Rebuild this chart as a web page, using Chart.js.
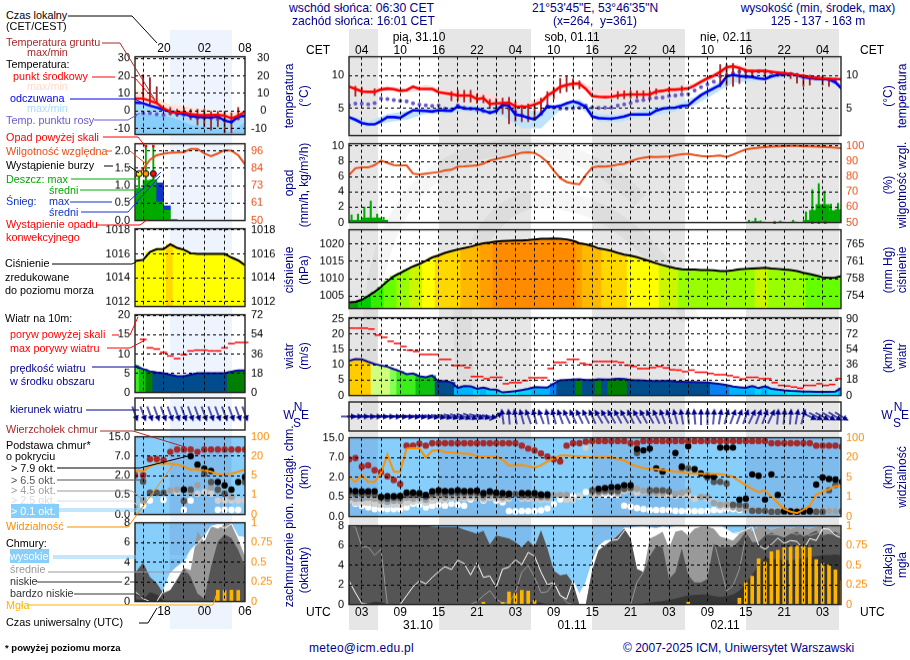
<!DOCTYPE html>
<html lang="pl">
<head>
<meta charset="utf-8">
<title>Meteogram</title>
<script src="https://cdn.jsdelivr.net/npm/chart.js@4"></script>
<style>
  html, body { margin: 0; background: #fff; }
  #page { position: relative; width: 910px; height: 660px; overflow: hidden; font: 10.8px "Liberation Sans", Arial, sans-serif; color: #000; }
  #page canvas { position: absolute; }
  .t { position: absolute; white-space: nowrap; line-height: 14px; }
  .band { position: absolute; }
  svg { position: absolute; left: 0; top: 0; }
</style>
</head>
<body>
<div id="page"></div>
<script>
const _ = null;

// main panels: hour 1 = 01 UTC 31.10, one value per hour (78 values)
const tempMid = [8.35,8.0,7.6,7.55,7.55,7.9,8.05,7.95,7.7,7.8,8.35,8.0,8.0,8.0,7.5,7.35,7.2,7.0,7.0,7.0,6.45,6.6,5.7,5.8,5.85,5.9,5.35,5.3,5.35,5.6,6.0,7.0,7.6,8.3,8.6,8.8,8.8,8.0,6.9,6.8,6.75,6.8,7.0,7.1,7.15,7.15,7.15,7.15,7.6,7.7,7.9,7.9,8.0,8.05,8.5,9.1,9.6,10.0,10.6,11.3,11.45,11.2,10.8,10.7,10.75,10.75,10.6,10.5,10.4,10.3,10.1,10,9.8,9.7,9.6,9.55,9.5,9.5];
const tempFeels = [3.7,3.3,2.8,2.6,2.6,3.1,3.7,3.7,3.6,4.2,4.75,4.7,4.65,4.55,4.75,4.7,4.65,5.35,5.0,5.0,5.0,4.7,4.35,4.65,5.6,5.4,4.1,3.9,3.6,3.35,4.2,5.35,5.25,5.4,5.8,6.1,5.8,5.25,3.8,3.55,3.5,3.45,3.6,3.8,4.1,4.1,4.1,4.1,4.7,5.0,5.1,5.15,5.4,5.5,6.3,7.05,7.6,8.1,8.6,9.9,10.15,9.95,9.9,9.8,9.6,9.5,9.9,10.15,10.2,10.3,10.1,9.8,9.65,9.55,9.5,9.45,9.0,8.0];
const tempDew = [5.5,5.75,5.75,5.65,5.85,6.55,6.45,6.3,6.2,6.1,5.8,5.6,5.5,5.4,5.5,5,4.85,5.5,5.15,5,4.85,4.6,4.4,4.65,5.4,5,4.5,4,3.6,3.55,4.2,5.35,5.15,5,5,5.05,5.1,5.45,5.2,5.1,5.15,5.15,5.45,5.65,5.85,6.2,6.3,6.55,6.65,6.7,6.9,7,7.15,7.2,7.75,8.25,8.7,9.1,9.9,10.1,10.4,10.65,10.65,10.65,10.65,10.6,10.5,10.4,10.35,10.3,10.15,9.9,9.75,9.65,9.55,9.4,9.4,9.4];
const bandHours = [1,4,7,10,13,16,19,22,25,28,31,34,37,40,43,46,49,52,55,58,61,64,67,70,73,76,78];
const tempUpper = [8.6,7.9,8.4,8.1,8.6,7.9,7.7,7.4,6.6,5.8,6.6,8.7,9.3,7.6,8.1,7.9,8.1,8.2,8.9,10.5,11.9,11.1,10.9,10.5,10,9.7,9.6];
const tempLower = [8.0,7.3,7.8,7.5,7.8,7.1,6.8,6.3,5.5,5.1,5.7,8,8.4,6.5,6.8,6.9,7.4,7.7,8.3,9.7,11.1,10.5,10.3,10.1,9.6,9.4,9.3];
const feelsUpper = [4,3,4.2,4.6,5.0,5.2,5.5,5.2,5.9,4.8,4.6,5.8,6.4,4.2,4.1,4.5,5.3,5.6,6.8,8.6,10.5,10.2,10.3,10.5,9.9,9.6,8.8];
const feelsLower = [3.2,2.2,2.9,3.3,4.2,4.2,4.6,4.2,3.9,2.0,2.0,4.8,5.2,3.0,2.9,3.6,4.0,4.6,5.5,7.2,8.9,9.2,9.5,9.7,9.3,9.2,7.9];
const groundHours = [2,3,5,17,18,19,20,21,22,23,24,25,26,27,28,29,30,31,32,33,34,35,36,37,43,44,45,46,47,48,49,51,53,59,60,61,62,63,64,66,68,70,71,72,73,75,76];
const groundMin = [6.9,7.2,7,6.2,6.2,6.0,6.0,5.8,5.9,5.0,4.4,4.2,2.7,3.1,3.0,3.0,3.2,4.4,5.6,6.5,7.4,7.6,8,8,6.5,6.5,6.6,6.6,6.6,6.6,7.2,7.5,7.6,8.3,8.5,8.4,8.8,9.6,9.9,9.9,9.9,9.6,8.9,8.4,8.6,8.6,8.4];
const groundMax = [8.4,8.2,8,7.6,7.8,7.8,7.8,7.2,7.0,6.4,6.5,6.6,6.7,6.0,5.5,5.7,5.8,6.6,7.6,8.2,9.6,9.9,9.5,9.2,7.6,7.7,7.7,7.7,7.7,7.7,8.0,8.2,8.4,11.7,11.8,11.85,11.3,10.9,10.7,10.6,10.5,10.3,10.3,10.2,10.1,9.9,9.7];

const humidity = [81,85.5,86,86,87.5,90.5,89,87.5,87.3,87.3,82,81.5,82,82.5,83,84,84.5,86.5,86.7,87,87.3,88.5,90.5,91.5,92.5,93.3,94.5,95.7,96,95.5,93,89.5,84,79,76.5,75.5,75,81,86,86.7,86.5,87,87.8,88.4,90,91.5,92.4,92.9,92.8,93,93.1,94,94.6,95,94.2,93.5,93.2,93.4,93.8,92.9,94.4,96.2,97.8,98.5,98.9,99.3,99.6,99.8,99.9,100,100,99.8,99.7,99.6,99.5,99.2,98.9,98.6];
const rainHours = [1.5,2.5,3.5,4.5,5.5,6.5,63.5,64.5,65.5,68.5,70.5,72.5,73.5,74.5,75.5,76.5,77.5,78.5];
const rainMean = [.3,.3,.6,.6,.6,.3,.08,.12,.06,.05,.08,.3,1.6,2.35,2.35,1.55,1.7,1.7];
const rainPeakHours = [1.4,2.4,3.4,4.4,5.4,6.4,63.5,64.5,65.3,68.4,70.4,72.4,73.4,74.4,75.3,76.3,77.4];
const rainPeak = [1.0,1.1,2.0,2.8,1.1,.7,.3,.55,.25,.2,.3,1.4,4.3,5.1,4.1,2.4,2.5];
const convHours = [67.5,73.4,74.4,75.4];

const pressure = [1003.2,1003.3,1003.9,1005,1006.2,1007.6,1009.3,1010.7,1011.6,1012.6,1013.5,1014.2,1015.1,1016.1,1016.7,1017.4,1017.9,1018.4,1018.8,1019.2,1019.7,1020.2,1020.4,1020.7,1020.8,1020.9,1021,1021,1021.1,1021.3,1021.45,1021.5,1021.55,1021.5,1021.3,1020.9,1020.2,1019.9,1019.4,1018.7,1018.4,1018,1017.4,1016.9,1016.6,1016.2,1015.6,1015,1014.4,1013.9,1013.4,1013,1012.7,1012.6,1012.6,1012.5,1012.5,1012.4,1012.2,1012.2,1012.4,1012.7,1012.8,1012.9,1013,1013.1,1012.9,1012.8,1012.6,1012.5,1012.2,1011.7,1011.3,1010.9,1010.4,1010.2,1010.3,1010.8];
const windSpeed = [11.3,11.9,11.8,11,10.3,9.8,9.4,8.6,7.9,7,7.2,6.3,6,6.5,4.6,4.7,4.3,2.5,3.1,3,2.2,2.6,2,1.9,1,1.2,1.4,1.8,2.2,2.75,2.7,2.6,3.85,5,5.1,5.2,5.3,5.1,5.1,5.3,5.2,5.3,5.5,5.4,5.1,5,4.9,4.7,4.7,4.7,4.8,4.6,4.5,4.4,4.4,4.3,4.2,4,3.75,3.4,2.9,2.7,2.5,3.1,2.4,3,2.2,1.9,1.65,1.5,1.4,1.3,1.3,1.2,1.2,1.2,1.3,2.5];
const windGust = [22,22,22,21.7,19.7,19,17.7,17,16,14.8,14.4,13.4,13.4,13.4,11.8,11.8,9.8,9.8,9.1,6.2,6.2,5.5,5.95,5.95,3.85,4.2,4.2,4.85,5.8,5.8,5.8,8.8,10.8,10.8,11.8,11.8,10.5,10.1,11.1,11.1,11.1,11.1,10.8,9.9,9.5,8.8,8.8,9.1,9.5,9,8.4,8.3,7.8,8.3,7.6,7.6,7.2,6.8,6.8,6.5,6,5.4,5.95,5.95,5.5,5.5,4.2,3.3,3.1,2.75,2.4,3.3,3.3,3.85,3.3,3.6,5.5];
const windDir = [90,90,90,91,91,92,92,93,94,95,96,97,98,100,102,104,106,108,110,112,108,105,100,60,-8,-5,-10,-15,-20,-15,-20,-10,-15,-20,-25,-25,-25,-25,-25,-30,-30,-30,-28,-30,-25,-30,-28,-28,-25,-20,-20,-15,-10,-5,-5,0,0,5,10,15,20,20,20,25,20,20,25,5,5,5,10,15,115,118,118,120,122,122];

// cloud height axis is banded: 0 = 0.0 km, 1 = 0.5, 2 = 2.0, 3 = 7.0, 4 = 15.0
const cloudTop = [2.9,2.97,2.53,2.6,2.35,2.25,2.05,1.85,1.65,3.6,3.6,3.7,3.6,3.72,3.72,3.72,3.72,3.72,3.72,3.72,3.72,3.72,3.72,3.72,3.72,3.72,3.72,3.6,3.45,3.35,3.2,3.05,2.9,2.8,3.6,3.72,3.72,3.8,3.83,3.83,3.83,3.83,3.83,3.83,3.72,3.72,3.83,3.83,3.83,3.83,3.83,3.83,3.83,3.83,3.83,3.83,3.83,3.83,3.83,3.83,3.83,3.83,3.83,3.83,3.83,3.83,3.72,3.72,3.72,3.72,3.72,3.72,3.72,3.6,3.6,3.6,3.6,3.55];
const baseOver79 = [1.33,1.29,1.28,1.28,1.28,1.0,1.03,1.03,1.05,1.21,1.21,1.19,1.1,1.28,1.33,1.29,1.29,1.33,1.29,1.29,1.31,1.19,1.28,1.21,1.19,1.16,_,1.19,1.19,1.19,1.12,1.12,_,_,_,_,_,_,_,1.41,1.45,1.5,1.5,1.59,1.59,3.43,3.36,3.45,2.45,2.28,_,3.22,2.53,3.57,2.4,2.19,2.07,2.02,3.5,3.5,3.5,.86,.9,2.14,2.07,.86,2.14,1.1,.28,.26,.24,.26,.29,1.62,1.98,1.9,1.88,1.76];
const baseOver65 = [1.2,1.15,1.15,1.15,1.1,.95,.9,.95,.95,1.1,1.1,1.1,1.0,1.15,1.2,1.15,1.2,1.2,1.2,1.2,1.2,1.1,1.2,1.1,1.1,1.1,1.15,1.1,1.1,1.1,1.05,1.05,_,_,_,_,_,_,1.33,1.3,1.33,1.3,1.3,1.4,1.45,3.22,_,1.33,1.33,1.33,1.28,_,2.45,2.45,_,_,1.98,1.76,1.76,1.67,.6,.6,.55,.29,.29,.29,.24,.24,.24,.24,.24,.24,.24,.24,.24,1.33,1.6,.26];
const baseOver45 = [.95,.9,.9,.95,.9,.8,.75,.8,.8,.95,.9,.95,.85,1.0,1.0,.95,1.0,1.0,1.0,1.05,1.0,.95,1.05,1.0,.95,1.0,1.15,1.0,1.0,1.0,.95,.95,1.1,1.1,1.1,_,_,_,1.2,1.2,1.25,1.25,1.2,1.4,1.4,1.4,1.3,1.2,1.2,1.2,_,1.15,1.2,1.3,_,1.0,1.0,.7,.6,.6,.5,.4,.35,.3,.3,_,.28,.28,.28,.28,.28,.28,.28,.28,.28,.28,.28,.3];
const baseOver25 = [.8,.7,.7,.7,.65,.6,.6,.6,.6,.7,.75,.8,.7,.8,.85,.85,.9,.9,.9,.95,.95,.85,.95,.9,.85,.9,_,.9,.9,.9,.85,.85,_,_,.85,.85,1.05,3.5,1.1,1.1,1.2,1.2,1.15,1.3,1.35,1.2,1.25,1.25,1.15,1.1,1.1,1.05,1.1,1.05,.9,1.0,.9,.75,.5,.5,.45,.4,.35,.3,.3,.3,.3,.3,.3,.28,.28,.28,.28,.28,.28,.28,.28,.3];
const baseOver01 = [.86,.64,.55,.47,.38,.38,.38,.38,.38,.47,.64,.6,.47,.55,.6,.55,.64,.6,.55,.86,1.03,.81,.98,.81,.72,.28,.26,.28,.28,.28,.31,.41,.64,.86,.86,1.03,1.03,1.24,1.15,1.1,1.1,1.1,1.1,.55,.5,.43,.38,.33,.33,.33,.33,.29,.28,.28,.28,.28,.29,.33,.33,.38,.38,.33];
const visibility = [2.02,1.76,2.1,1.76,1.76,2.19,3.14,2.28,2.28,3.45,3.48,3.45,3,3.34,3.38,3.28,3.25,3.22,3.2,3.17,3.05,3.05,3.05,3.05,2.88,2.59,2.6,2.62,2.55,2.48,2.6,2.79,2.95,3.09,3.09,3.07,3.05,3.03,3.02,3.02,3.02,3.02,2.91,2.85,2.66,2.55,2.45,2.42,2.4,2.36,2.33,2.28,2.26,2.19,2.18,2.17,2.16,2.16,2.15,2.1,2.02,1.8,1.59,1.4,1.24,1.33,1.0,.7,.38,.25,.17,.35,.55,1.12,1.25,1.38,1.55,1.55];

// cloud cover in oktas: upper edge of each painted layer
const coverHigh = [0,0,0,0,0,0,0,0,0,0,0,0,0,0,0,0,0,0,0,0,0,0,0,0,0,0,0,0,0,0,0,0,0,0,0,2.4,1.05,2.2,4.3,5.9,6.5,6.6,7.0,7.8,7.8,7.85,7.9,7.8,7.7,7.9,7.8,7.9,7.95,7.9,8,8,8,7.9,8,7.6,7.2,7.2,7.9,7.45,7.9,7.9,7.6,7.8,7.9,7.7,7.9,7.8,7.7,7.9,8,7.9,8,7.9];
const coverMid = [0,0,0,0,0,0,0,0,0,0,0,0,0,0,0,0,0,0,0,0,0,0,0,0,0,0,0,0,0,0,0,0,0,0,0,0,0,0,3.6,5.5,6,6.5,7,7.7,6.7,3.6,3.3,6.7,7,7.4,5.7,7.4,7.55,7,7.7,7.9,7.9,7.7,6.9,6.7,6.5,7.2,7.9,7.45,7.9,7.9,7.6,7.8,7.9,7.7,7.9,7.8,7.7,7.9,8,7.9,8,7.9];
const coverLow = [8,8,8,8,8,8,8,8,8,8,8,8,8,7.9,7.85,7.85,7.85,7.85,7.6,7.4,7.2,7.5,6.1,7,6.85,6.7,6.35,5.8,6.5,5.85,7.55,5.7,3.45,2.95,3.1,2.2,0,0,3.4,5.5,6,6.5,7,7.7,6.7,3.6,3.3,5,5.95,5.85,2.6,3.3,5.7,2.95,2.25,2.25,2.6,6.2,5.85,5.85,5.85,6.5,7.4,6.35,6.35,7,7.3,7,6.8,7.2,7.4,6.9,7.2,7.5,7,7.2,7.4,7];
const coverVeryLow = [0,0,0,.1,.3,.25,0,0,0,0,0,0,0,0,0,0,0,0,0,0,0,0,0,0,0,0,0,0,.2,.3,.2,0,0,0,0,0,0,0,0,0,0,0,0,0,0,.05,.1,.2,.3,.35,.45,.6,.75,.9,.95,1,1,.85,.75,.85,1,1.4,2.2,3,4,4.8,4.6,4.6,4.5,4.5,4.6,4.7,4.8,4.9,5,5,5.1,5];
const highAmount = [2.4,1.2,.1,0,0,0,0,0,0,.9,1.8,2.4,2.1,2.75,3.35,3.85,3.55,4.5,4.15,3,4.25,2.75,2.9,1.75,3.6,3.8,4.55,4.05,5.3,4.9,3.3,2,2.25,.9,.55,2.4,1.05,2.2,4.3,5.9,6.4,6.5,6.6,7.5,7.8,7.85,7.9,7.8,7.7,7.9,7.8,7.9,7.95,7.9,8,8,8,7.9,8,7.6,7.2,7.3,7.6,7.9,6,5.6,6.1,6.75,6.2,6.5,6.4,5.6,6.7,6.5,7.7,7.65,7,6.75];
const midAmount = [8,7.9,5.85,5.85,5,5.6,0,0,0,0,0,0,0,0,0,0,0,0,0,0,.3,.9,1.4,.55,.15,.2,1.2,3.3,3.95,2.75,1.2,1.3,2.25,1.05,.2,0,0,0,0,0,0,0,0,0,0,2.25,3.3,5,6,6.4,5.5,6,6.2,5.8,6,6.2,6.6,6.5,3.95,1.4,1.9,3.6,6.9,8,7.4,7.2,7.1,7.1,7.1,7.3,7.1,7.3,7,7.2,7.5,7.2,7.1,7];
const fogHours = [22,25,26,27,28,29,30,54,62,63,64,65,66,67,68,69,70,71,72,73,74,75,76,77,78];
const fogFraction = [.03,.03,.16,.14,.18,.17,.05,.03,.08,.28,.36,.58,.54,.67,.69,.72,.73,.74,.73,.72,.57,.52,.5,.44,.3];

// left sample panels: one value per hour, 14 to 30 UTC
const leftHours = [13.8,15,16,17,18,19,20,21,22,23,24,25,26,27,28,29,30];
const leftTemp = [7.1,7,5.8,4.4,1.5,-.4,-1,-.8,-1.9,-2.3,-2.5,-2.3,-2.3,-2.7,-4.2,-2.7,-.4];
const leftFeels = [4.8,4.4,2.9,1.9,.6,-.4,-1.3,-1.7,-2.9,-3.5,-3.6,-3.8,-3.2,-5.6,-6.5,-3.3,-2.7];
const leftDew = [-2.3,-1.3,-1.3,-1.9,-2.3,-1.3,-1.9,-2.3,-3.3,-4,-4,-4.2,-4.6,-5.2,-6.1,-4.2,-3];
const leftTempUpper = [12,10.8,9.2,7.5,5.3,3.6,3.2,2.7,2,1.5,1,.6,.2,-.1,-1,-.2,.5];
const leftTempLower = [6,5.4,4.2,2.6,.4,-1.4,-2,-2,-3,-3.4,-3.6,-3.6,-3.6,-3.8,-5.2,-3.6,-1.2];
const leftFeelsUpper = [6,5.4,4.2,3,2,1,.3,0,-1,-1.4,-2,-2.3,-2,-3.5,-4.8,-2,-.8];
const leftFeelsLower = [-1.3,-1.5,-1.8,-2.3,-2.6,-3.3,-4.5,-6,-7.5,-8.6,-8.8,-9,-9.2,-10.5,-12,-9,-6];
const leftGroundHours = [15,16,17,19,20,21,22,23,24,25,26,27,28,29];
const leftGroundMin = [6.3,3.8,5,-2.3,-3.2,-2.3,-5,-8,-9,-11,-9,-12.5,-12.5,-5];
const leftGroundMax = [20.8,19,13.8,2,1,2,1,1,1,0,0,0,-1,2];
const leftHumidity = [78.6,84,90,93,94,94.7,94.9,95,97.2,97.2,94.2,92.4,94.2,96.4,96,93,87];
const leftRainHours = [14.4,15.5,16.5,17.5,18.5,19.5];
const leftRain = [.93,1.15,1.17,.55,.32,.03];
const leftSnowHours = [17.5,18.5];
const leftSnowLow = [.55,.32];
const leftSnowHigh = [1.08,.42];
const leftStormHours = [14.4,15.4,16.5];
const leftPressure = [1015.4,1015.5,1016.15,1016.4,1016.4,1016.8,1016.5,1016.35,1016.05,1016,1016,1016,1016,1016,1015.7,1015.45,1015.05];
const leftWind = [7,6.1,5.5,5.2,5,4.6,4.2,4.2,4.6,5,5,5,5,5,5.4,5.7,5.7];
const leftGust = [_,13.8,11.6,11.3,10.4,9.5,8.8,9.8,10.8,11,11,10.8,10.8,11.6,12.7,13,13];
const leftDir = [160,160,160,160,160,160,160,160,160,160,160,160,160,160,160,160,160];
const leftTop = [2.02,2.02,2.85,2.85,2.8,3.22,3.34,3.34,3.34,3.22,3.34,3.34,3.34,3.34,3.34,3.34,3.34];
const leftBase79 = [_,_,_,_,_,_,_,1.28,3.0,2.57,2.36,2.24,1.67,1.5,1.28,1.67,1.93];
const leftBase65 = [_,1.7,1.12,1.12,1.12,_,_,.69,1.28,_,2.1,1.67,1.28,1.07,_,_,1.67];
const leftBase45 = [.38,.72,_,_,_,1.24,1.28,.7,1.15,1.5,_,1.4,1.24,1.1,.9,_,_];
const leftBase25 = [.38,_,_,_,_,1.24,1.15,_,_,1.07,1.15,1.07,.72,.72,.72,.72,.72];
const leftBase01 = [_,.46,.72,_,.76,_,_,.24,.72,_,_,_,.24,.24,.24,.24,_];
const leftVisibility = [2.24,2.24,2.48,2.62,2.62,2.62,2.58,2.45,2.31,2.3,2.28,2.2,2.07,2.08,2.1,2.2,2.31];
const leftCoverHigh = [0,0,0,0,1.15,2.9,3.55,4.05,5.25,5.95,6.65,7.65,7.85,7.85,7.85,6.65,6.5];
const leftCoverMid = [0,0,0,0,.9,1.2,2.3,3.4,3.2,7.15,6,7.65,7.4,7.85,7.85,6.3,4.6];
const leftCoverLow = [2.87,3.95,2.5,1.85,.8,1.15,2.2,3.4,2.5,.8,.3,3.55,6.1,6.8,6.45,5.25,3.55];
const leftCoverVeryLow = [.2,.2,.95,.7,.1,0,0,0,0,0,0,0,0,0,0,0,0];
const leftHighAmount = [1,.3,0,0,1.1,2.9,3.5,4,5.2,5.9,6.6,7.6,7.8,7.4,7.9,6.6,6.5];
const leftFogHours = [26,27,28,29];
const leftFog = [.145,.14,.145,.14];

// axis tick labels
const cetLabels = ['04','10','16','22','04','10','16','22','04','10','16','22','04'];
const utcLabels = ['03','09','15','21','03','09','15','21','03','09','15','21','03'];
const heightValues = [4,3,2,1,0];
const heightLabels = ['15.0','7.0','2.0','0.5','0.0'];
const visLabels = ['100','20','5','1','0'];

const hours = tempMid.map((v, i) => i + 1);
const nightSpans = [[1, 5.5], [15, 29.5], [39, 53.5], [63, 77.6]];
const leftNight = [[18.9, 28]];
const mainGrid = [];
for (let h = 3; h <= 77; h += 3) mainGrid.push(h);
const leftGrid = [15, 18, 21, 24, 27];

const pressureLevels = [1003.6,1005.5,1007.6,1011.4,1012.9,1014.3,1016.6,1018.5,1020,1020.6,9999];
const pressureColors = ['#0a9a0a','#00cc00','#33ee00','#66ff00','#99ff00','#ccf500','#ffff00','#ffd800','#ffb800','#ffa000','#ff8c00'];
const windLevels = [1.5,2.4,3.3,4.0,5.2,5.9,6.8,8,9.3,10.3,10.9,99];
const windColors = ['#00f0ff','#00d4ff','#00b4ff','#0a80f0','#004c8c','#007f00','#10c010','#3cee1c','#88ff55','#d0ff80','#ffff55','#ffcc00'];
const levelColor = (v, levels, colors) => colors[levels.findIndex(l => v <= l)];

const font = '"Liberation Sans", Arial, sans-serif';
const NAVY = '#00008b', BLUE_BG = '#87cefa', BLUE_NIGHT = '#7ebcee', ORANGE = '#ff8c00', HUMID = '#e8501a';
const page = document.getElementById('page');
const AXW = 45, PAD = 8;

const xy = (xs, ys) => xs.map((x, i) => ({ x, y: ys[i] })).filter(p => p.y !== null && p.y !== undefined);
const line = (xs, ys, color, width, extra) => ({ type: 'line', data: xy(xs, ys), borderColor: color, borderWidth: width, pointRadius: 0, tension: 0, spanGaps: false, ...extra });
const area = (xs, ys, color, fill) => ({ type: 'line', data: xy(xs, ys), borderWidth: 0, borderColor: 'transparent', backgroundColor: color, fill, pointRadius: 0, tension: 0 });
const dots = (xs, ys, color, r, extra) => ({ type: 'scatter', data: xy(xs, ys), backgroundColor: color, borderWidth: 0, pointRadius: r, ...extra });
const bars = (xs, lows, highs, color, width) => ({
  type: 'bar', grouped: false, barThickness: width, backgroundColor: color, borderWidth: 0,
  data: xs.map((x, i) => ({ x, y: [lows === 0 ? 0 : lows[i], highs[i]] }))
});
const dashes = (xs, ys, r) => dots(xs.map(x => x + 0.5), ys, 'transparent', r, { pointStyle: 'line', pointBorderColor: '#ff0000', pointBorderWidth: 1.5, clip: false });

// wind arrow drawn pointing up, rotated per point by the library
const arrow = document.createElement('canvas');
arrow.width = 16; arrow.height = 16;
{
  const c = arrow.getContext('2d');
  c.strokeStyle = c.fillStyle = '#00008b';
  c.lineWidth = 1.3;
  c.beginPath(); c.moveTo(8, 16); c.lineTo(8, 3); c.stroke();
  c.beginPath(); c.moveTo(8, 0); c.lineTo(11, 6); c.lineTo(5, 6); c.closePath(); c.fill();
}
const arrows = (xs, dirs) => ({ type: 'scatter', data: xs.map(x => ({ x, y: 0 })), pointStyle: arrow, pointRotation: dirs, clip: false });

function addPanel(o) {
  const cv = document.createElement('canvas');
  const plotW = o.right - o.left, plotH = o.bottom - o.top;
  cv.width = plotW + 2 * AXW;
  cv.height = plotH + 2 * PAD;
  page.appendChild(cv);
  // datasets are listed back to front
  o.datasets.forEach((d, i) => { d.order = o.datasets.length - i; });
  const frame = {
    id: 'frame',
    beforeDatasetsDraw(chart) {
      if (!o.bg) return;
      const { ctx, chartArea: a, scales } = chart;
      ctx.save();
      ctx.fillStyle = o.bg;
      ctx.fillRect(a.left, a.top, a.width, a.height);
      ctx.fillStyle = o.bgNight;
      o.nights.forEach(([s, e]) => {
        const x1 = scales.x.getPixelForValue(s), x2 = scales.x.getPixelForValue(e);
        ctx.fillRect(x1, a.top, x2 - x1, a.height);
      });
      ctx.restore();
    },
    afterDraw(chart) {
      const { ctx, chartArea: a } = chart;
      ctx.save();
      ctx.strokeStyle = '#222';
      ctx.lineWidth = 1.4;
      ctx.strokeRect(a.left, a.top, a.width, a.height);
      ctx.restore();
    }
  };
  const yAxis = (spec, pos, grid) => ({
    type: 'linear', position: pos, min: spec.min, max: spec.max,
    afterBuildTicks: s => { s.ticks = spec.ticks.map(value => ({ value })); },
    afterFit: s => { s.width = AXW; },
    ticks: {
      autoSkip: false, padding: spec.padding || 5, color: spec.color || '#000',
      font: { family: font, size: 11 },
      callback: (v, i) => spec.labels[i]
    },
    grid: { display: grid, drawTicks: false, color: '#000', lineWidth: 1, z: 1 },
    border: { display: false, dash: [3, 3] }
  });
  const scales = {
    x: {
      type: 'linear', min: o.xMin, max: o.xMax, offset: false,
      afterBuildTicks: s => { s.ticks = o.xTicks.map(value => ({ value })); },
      afterFit: s => { s.height = 0; },
      ticks: { display: false },
      grid: { offset: false, drawTicks: false, color: '#000', lineWidth: 1, z: 1 },
      border: { display: false, dash: [3, 3] }
    },
    y: yAxis(o.y, 'left', o.y.grid !== false)
  };
  if (o.y2) scales.y2 = yAxis(o.y2, 'right', false);
  const chart = new Chart(cv, {
    data: { datasets: o.datasets },
    plugins: [frame],
    options: {
      responsive: false, maintainAspectRatio: false, animation: false, devicePixelRatio: 1,
      layout: { autoPadding: false, padding: { top: PAD, bottom: PAD, left: 0, right: o.y2 ? 0 : AXW } },
      plugins: { legend: { display: false }, tooltip: { enabled: false } },
      scales
    }
  });
  // the layout keeps its own insets, so size the canvas to land the plot on the panel box
  const a = chart.chartArea;
  const insetTop = a.top, insetBottom = chart.height - a.bottom;
  const insetLeft = a.left, insetRight = chart.width - a.right;
  chart.resize(plotW + insetLeft + insetRight, plotH + insetTop + insetBottom);
  cv.style.position = 'absolute';
  cv.style.left = (o.left - chart.chartArea.left) + 'px';
  cv.style.top = (o.top - chart.chartArea.top) + 'px';
  return chart;
}

const mainBox = { left: 349, right: 841, xMin: 1, xMax: 77.875, xTicks: mainGrid, nights: nightSpans };
const leftBox = { left: 135, right: 245, xMin: 13.8, xMax: 30, xTicks: leftGrid, nights: leftNight };

function bandShading() {
  const px = h => 349 + (h - 1) * 6.4;
  nightSpans.forEach(([s, e]) => {
    const d = document.createElement('div');
    d.className = 'band';
    d.style.cssText = `left:${px(s)}px;width:${px(e) - px(s)}px;top:29px;height:601px;background:#e6e6e6`;
    page.appendChild(d);
  });
  const d = document.createElement('div');
  d.className = 'band';
  d.style.cssText = 'left:170px;width:62px;top:30px;height:599px;background:#eef4fe';
  page.appendChild(d);
  // faint logo behind the charts
  page.insertAdjacentHTML('beforeend', `<svg width="910" height="660">
    <path d="M372 420 C362 300 375 190 470 155 C530 135 590 150 640 200" fill="none" stroke="rgba(0,0,0,.04)" stroke-width="16"/>
    <path d="M470 400 C450 300 470 215 530 200 C600 195 660 240 690 320" fill="none" stroke="rgba(0,0,0,.04)" stroke-width="18"/>
  </svg>`);
}
bandShading();

// ---- main panels ----
function tempPanels() {
  const mainY = { min: 0.9, max: 12.9, ticks: [10, 5] };
  addPanel({
    ...mainBox, top: 57, bottom: 135,
    y: { ...mainY, labels: ['10', '5'] }, y2: { ...mainY, labels: ['10', '5'] },
    datasets: [
      area(bandHours, tempUpper, '#fcdcdc', '+1'), area(bandHours, tempLower, '#fcdcdc', false),
      area(bandHours, feelsUpper, '#bfe3fb', '+1'), area(bandHours, feelsLower, '#bfe3fb', false),
      dots(hours, tempDew, '#6a5acd', 2),
      bars(groundHours, groundMin, groundMax, '#a52a2a', 1.2),
      line(hours, tempFeels, '#0000ee', 2.6),
      line(hours, tempMid, '#ff0000', 2.6)
    ]
  });
  const leftY = { min: -13.5, max: 31, ticks: [30, 20, 10, 0, -10] };
  addPanel({
    ...leftBox, top: 57, bottom: 134,
    y: { ...leftY, labels: ['30', '20', '10', '0', '-10'] },
    y2: { ...leftY, labels: ['  30', '  20', '  10', '   0', '-10'], padding: 6 },
    datasets: [
      area(leftHours, leftFeelsLower, BLUE_BG, 'start'),
      area(leftHours, leftTempUpper, '#fde4d8', '+1'), area(leftHours, leftTempLower, '#fde4d8', false),
      area(leftHours, leftFeelsUpper, '#a9dcfb', '+1'), area(leftHours, leftFeelsLower, '#a9dcfb', false),
      dots(leftHours, leftDew, '#6a5acd', 2),
      bars(leftGroundHours, leftGroundMin, leftGroundMax, '#a52a2a', 1.2),
      line(leftHours, leftFeels, '#0000ee', 2.4),
      line(leftHours, leftTemp, '#ff0000', 2.4)
    ]
  });
}

function precipPanels() {
  addPanel({
    ...mainBox, top: 144, bottom: 222,
    y: { min: 0, max: 10.3, ticks: [10, 8, 6, 4, 2, 0], labels: ['10', '8', '6', '4', '2', '0'] },
    y2: { min: 50, max: 101.5, ticks: [100, 90, 80, 70, 60, 50], labels: ['100', '90', '80', '70', '60', '50'], color: HUMID },
    datasets: [
      bars(rainHours, 0, rainMean, '#00aa00', 7),
      bars(rainPeakHours, 0, rainPeak, '#00aa00', 1.4),
      line(hours, humidity, HUMID, 2, { yAxisID: 'y2' }),
      dots(convHours, convHours.map(() => 0), '#e00000', 1.8, { pointStyle: 'rect', clip: false })
    ]
  });
  addPanel({
    ...leftBox, top: 144, bottom: 220,
    y: { min: 0, max: 2.2, ticks: [2, 1.5, 1, .5, 0], labels: ['2.0', '1.5', '1.0', '0.5', '0.0'] },
    y2: { min: 50, max: 100.6, ticks: [96, 84.5, 73, 61.5, 50], labels: ['96', '84', '73', '61', '50'], color: HUMID, padding: 6 },
    datasets: [
      bars(leftRainHours, 0, leftRain, '#00aa00', 7),
      bars(leftStormHours, 0, [1.34, 2.1, 2.1], '#00aa00', 1.2),
      bars(leftSnowHours, leftSnowLow, leftSnowHigh, '#1433c8', 7),
      line(leftHours, leftHumidity, HUMID, 2, { yAxisID: 'y2' }),
      dots([15.4, 16.5], [2.13, 2.13], '#e00000', 1.8, { pointStyle: 'rect' }),
      dots(leftStormHours, [1.34, 1.34, 1.34], ['#ffee00', '#ff9a00', '#ee1111'], 3, { borderColor: '#000', borderWidth: 1 })
    ]
  });
}

function pressurePanels() {
  const mainY = { min: 1001.4, max: 1024.07, ticks: [1020, 1015, 1010, 1005] };
  addPanel({
    ...mainBox, top: 230, bottom: 308,
    y: { ...mainY, labels: ['1020', '1015', '1010', '1005'] }, y2: { ...mainY, labels: ['765', '761', '758', '754'] },
    datasets: [
      bars(hours, pressure.map(() => 1001.4), pressure, pressure.map(v => levelColor(v, pressureLevels, pressureColors)), 7),
      line(hours, pressure, '#000', 2)
    ]
  });
  const leftY = { min: 1011.6, max: 1018.1, ticks: [1018, 1016, 1014, 1012] };
  addPanel({
    ...leftBox, top: 229, bottom: 306,
    y: { ...leftY, labels: ['1018', '1016', '1014', '1012'] }, y2: { ...leftY, labels: ['1018', '1016', '1014', '1012'], padding: 6 },
    datasets: [
      bars(leftHours, leftPressure.map(() => 1011.6), leftPressure, leftPressure.map(v => levelColor(v, pressureLevels, pressureColors)), 8),
      line(leftHours, leftPressure, '#000', 2)
    ]
  });
}

function windPanels() {
  const mainY = { min: 0, max: 25.4, ticks: [25, 20, 15, 10, 5, 0] };
  addPanel({
    ...mainBox, top: 318, bottom: 395,
    y: { ...mainY, labels: ['25', '20', '15', '10', '5', '0'] }, y2: { ...mainY, labels: ['90', '72', '54', '36', '18', '0'] },
    datasets: [
      bars(hours, 0, windSpeed, windSpeed.map(v => levelColor(v, windLevels, windColors)), 7),
      line(hours, windSpeed, '#0a0a9a', 2),
      dashes(hours.slice(0, windGust.length), windGust, 3.2)
    ]
  });
  const leftY = { min: 0, max: 20.2, ticks: [20, 15, 10, 5, 0] };
  addPanel({
    ...leftBox, top: 315, bottom: 392,
    y: { ...leftY, labels: ['20', '15', '10', '5', '0'] }, y2: { ...leftY, labels: ['72', '54', '36', '18', '0'], padding: 6 },
    datasets: [
      bars(leftHours, 0, leftWind, leftWind.map(v => levelColor(v, windLevels, windColors)), 8),
      line(leftHours, leftWind, '#0a0a9a', 2),
      dashes(leftHours.map(h => h - .5), leftGust, 3.4)
    ]
  });
  const dirY = { min: -1, max: 1, ticks: [], labels: [], grid: false };
  addPanel({ ...mainBox, top: 402, bottom: 431, y: dirY, y2: dirY, datasets: [arrows(hours, windDir)] });
  addPanel({ ...leftBox, top: 398, bottom: 430, y: dirY, y2: dirY, datasets: [arrows(leftHours, leftDir)] });
}

function cloudBasePanels() {
  const r = 3.2;
  addPanel({
    ...mainBox, top: 438, bottom: 516, bg: BLUE_BG, bgNight: BLUE_NIGHT,
    y: { min: 0, max: 4, ticks: heightValues, labels: heightLabels },
    y2: { min: 0, max: 4, ticks: heightValues, labels: visLabels, color: ORANGE },
    datasets: [
      dots(hours, baseOver01, '#ffffff', r), dots(hours, baseOver25, '#d0d0d0', r),
      dots(hours, baseOver45, '#a0a0a0', r), dots(hours, baseOver65, '#555555', r),
      dots(hours, baseOver79, '#000000', r), dots(hours, cloudTop, '#a52a2a', r),
      line(hours, visibility, '#ff9000', 2)
    ]
  });
  addPanel({
    ...leftBox, top: 437, bottom: 514, bg: BLUE_BG, bgNight: BLUE_NIGHT,
    y: { min: 0, max: 4, ticks: heightValues, labels: heightLabels },
    y2: { min: 0, max: 4, ticks: heightValues, labels: visLabels, color: ORANGE, padding: 6 },
    datasets: [
      dots(leftHours, leftBase01, '#ffffff', r), dots(leftHours, leftBase25, '#d0d0d0', r),
      dots(leftHours, leftBase45, '#a0a0a0', r), dots(leftHours, leftBase65, '#555555', r),
      dots(leftHours, leftBase79, '#000000', r), dots(leftHours, leftTop, '#a52a2a', r),
      line(leftHours, leftVisibility, '#ff9000', 2)
    ]
  });
}

function coverPanels() {
  const okt = { min: 0, max: 8, ticks: [8, 6, 4, 2, 0], labels: ['8', '6', '4', '2', '0'] };
  const frac = { min: 0, max: 8, ticks: [8, 6, 4, 2, 0], labels: ['1', '0.75', '0.5', '0.25', '0'], color: ORANGE };
  const fogAxis = ys => ys.map(v => v * 8);
  addPanel({
    ...mainBox, top: 526, bottom: 604, bg: BLUE_BG, bgNight: BLUE_NIGHT, y: okt, y2: frac,
    datasets: [
      area(hours, coverHigh, '#ffffff', 'origin'), area(hours, coverMid, '#999999', 'origin'),
      area(hours, coverLow, '#555555', 'origin'), area(hours, coverVeryLow, '#363636', 'origin'),
      line(hours, midAmount, '#999999', 1), line(hours, highAmount, '#ffffff', 1),
      bars(fogHours, 0, fogAxis(fogFraction), '#ffb400', 3)
    ]
  });
  addPanel({
    ...leftBox, top: 523, bottom: 601, bg: BLUE_BG, bgNight: BLUE_NIGHT, y: okt, y2: { ...frac, padding: 6 },
    datasets: [
      area(leftHours, leftCoverHigh, '#ffffff', 'origin'), area(leftHours, leftCoverMid, '#999999', 'origin'),
      area(leftHours, leftCoverLow, '#555555', 'origin'), area(leftHours, leftCoverVeryLow, '#363636', 'origin'),
      line(leftHours, leftHighAmount, '#ffffff', 1),
      bars(leftFogHours, 0, fogAxis(leftFog), '#ffb400', 3)
    ]
  });
}

tempPanels();
precipPanels();
pressurePanels();
windPanels();
cloudBasePanels();
coverPanels();

// ---- text ----
function txt(s, x, y, color, opts = {}) {
  const e = document.createElement('div');
  e.className = 't';
  e.textContent = s;
  e.style.left = x + 'px';
  e.style.top = (y - 7) + 'px';
  if (color) e.style.color = color;
  if (opts.center) e.style.transform = 'translateX(-50%)';
  if (opts.rot) e.style.transform = 'translate(-50%,0) rotate(-90deg)';
  if (opts.css) e.style.cssText += opts.css;
  page.appendChild(e);
  return e;
}
const BROWN = '#a52a2a', RED = '#ff0000', GREEN = '#00aa00', SNOW = '#1433c8', VIOLET = '#6a5acd';

[['Czas lokalny',6,14.5,'#000'],['(CET/CEST)',6,26,'#000'],['Temperatura gruntu',6,42,BROWN],['max/min',27,52,BROWN],
 ['Temperatura:',6,64,'#000'],['punkt środkowy',13,76,RED],['max/min',27,86,'#fddccc'],['odczuwana',10,98,'#0000ee'],
 ['max/min',27,108,'#a9dcfb'],['Temp. punktu rosy',6,120,VIOLET],['Opad powyżej skali',6,137,RED],['Wilgotność względna',6,151,HUMID],
 ['Wystąpienie burzy',6,165,'#000'],['Deszcz: max',6,179,GREEN],['średni',49,190,GREEN],['Śnieg:',6,201,SNOW],['max',49,201,SNOW],['średni',49,212,SNOW],
 ['Wystąpienie opadu',6,224,RED],['konwekcyjnego',6,237,RED],['Ciśnienie',5,263,'#000'],['zredukowane',5,276.5,'#000'],['do poziomu morza',5,289.5,'#000'],
 ['Wiatr na 10m:',5,318,'#000'],['poryw powyżej skali',10,334,RED],['max porywy wiatru',10,348,RED],['prędkość wiatru',10,368,NAVY],['w środku obszaru',10,381,NAVY],
 ['kierunek wiatru',10,409,NAVY],['Wierzchołek chmur',6,429,BROWN],['Podstawa chmur*',6,444.5,'#000'],['o pokryciu',6,456,'#000'],
 ['> 7.9 okt.',11,468,'#000'],['> 6.5 okt.',11,479.5,'#555'],['> 4.5 okt.',11,490,'#a0a0a0'],['> 2.5 okt.',11,500,'#ddd'],
 ['Widzialność',6,526,'#ff8c00'],['Chmury:',6,543,'#000'],['średnie',10,569,'#999'],['niskie',10,581,'#333'],['bardzo niskie',10,593,'#333'],['Mgła',6,605,'#ffb400'],
 ['Czas uniwersalny (UTC)',6,622,'#000']
].forEach(([s, x, y, c]) => txt(s, x, y, c));
txt('> 0.1 okt.', 11, 511, '#fff', { css: `background:${BLUE_BG};padding-right:3px` });
txt('wysokie', 10, 556, '#fff', { css: `background:${BLUE_BG};padding-right:1px` });
txt('* powyżej poziomu morza', 5, 648, '#000', { css: 'font-size:9.5px;font-weight:bold' });

[['20',164],['02',204.5],['08',245]].forEach(([s, x]) => txt(s, x, 48, '#000', { center: true, css: 'font-size:12px' }));
[['18',164],['00',204.5],['06',245]].forEach(([s, x]) => txt(s, x, 611, '#000', { center: true, css: 'font-size:12px' }));

const headCss = 'font-size:12px';
txt('wschód słońca: 06:30 CET', 289, 8, NAVY, { css: 'font-size:12.2px' });
txt('zachód słońca: 16:01 CET', 292, 21, NAVY, { css: 'font-size:12.2px' });
txt('21°53\'45"E, 53°46\'35"N', 595, 8, NAVY, { center: true, css: headCss });
txt('(x=264,  y=361)', 595, 21, NAVY, { center: true, css: headCss + ';white-space:pre' });
txt('wysokość (min, środek, max)', 818, 8, NAVY, { center: true, css: headCss });
txt('125 - 137 - 163 m', 818, 21, NAVY, { center: true, css: headCss });
[['pią, 31.10',419],['sob, 01.11',572],['nie, 02.11',726]].forEach(([s, x]) => txt(s, x, 37, '#000', { center: true, css: headCss }));
[['31.10',418],['01.11',572],['02.11',725]].forEach(([s, x]) => txt(s, x, 625, '#000', { center: true, css: headCss }));
txt('CET', 306, 50, '#000', { css: headCss });
txt('CET', 860, 50, '#000', { css: headCss });
txt('UTC', 306, 612, '#000', { css: headCss });
txt('UTC', 860, 612, '#000', { css: headCss });
cetLabels.forEach((s, i) => txt(s, 361.8 + 38.4 * i, 50, '#000', { center: true, css: headCss }));
utcLabels.forEach((s, i) => txt(s, 361.8 + 38.4 * i, 612, '#000', { center: true, css: headCss }));
txt('meteo@icm.edu.pl', 309, 648, NAVY, { css: headCss + ';letter-spacing:.3px' });
txt('© 2007-2025 ICM, Uniwersytet Warszawski', 623, 648, NAVY, { css: headCss });

[['temperatura',289,96],['(°C)',304,96],['opad',289,183],['(mm/h, kg/m³/h)',304,185],['ciśnienie',289,270],['(hPa)',304,270],
 ['wiatr',289,356],['(m/s)',304,356],['pion. rozciągł. chm.',289,477],['(km)',304,477],['zachmurzenie',289,570],['(oktanty)',304,570],
 ['temperatura',902,96],['(°C)',888,96],['wilgotność wzgl.',902,185],['(%)',888,185],['ciśnienie',902,270],['(mm Hg)',888,270],
 ['wiatr',902,356],['(km/h)',888,356],['widzialność',902,477],['(km)',888,477],['mgła',902,565],['(frakcja)',888,565]
].forEach(([s, x, y]) => txt(s, x, y, NAVY, { rot: true, css: headCss }));

[[289,298,305,297],[887,898,905,897]].forEach(([w, n, e, s]) => {
  txt('W', w, 415, NAVY, { center: true, css: headCss });
  txt('N', n, 407, NAVY, { center: true, css: headCss });
  txt('E', e, 415, NAVY, { center: true, css: headCss });
  txt('S', s, 423, NAVY, { center: true, css: headCss });
});

// leader lines from the legend to the sample panels
const leaders = [
  ['#000','68,16 132,16 157,43'],[BROWN,'102,43 120,43 155,100'],[RED,'92,77 115,77'],[RED,'131,77 135,78 157,103'],['#0000ee','70,99 135,99 142,103'],
  [VIOLET,'94,120 128,120 140,113'],[RED,'103,137 138,137 146,147'],[HUMID,'106,151 112,151'],[HUMID,'130,151 145,163'],['#000','104,166 113,166'],['#000','129,166 139,173'],
  [GREEN,'71,179 139,179'],[GREEN,'80,190 143,190'],[SNOW,'70,202 112,202'],[SNOW,'128,202 161,172'],[SNOW,'81,212 128,212 160,176'],[RED,'96,225 140,225 147,220'],
  ['#000','52,264 132,264 136,262'],[RED,'112,335 119,335'],[RED,'130,335 138,317'],[RED,'107,348 130,348 145,340'],[NAVY,'92,367 135,367 140,369'],[NAVY,'86,410 139,410'],
  [BROWN,'100,431 133,431 185,447'],['#000','57,468 140,468 192,455'],['#555','57,480 143,480'],['#999','57,491 132,491 143,500'],['#ddd','57,501 132,501 137,505'],
  [BLUE_BG,'57,509 143,509'],[BLUE_BG,'57,511 143,511'],['#ff8c00','67,527 128,527 173,465'],[BLUE_BG,'53,556 187,556'],[BLUE_BG,'53,558 187,558'],['#999','48,572 193,572'],
  ['#333','37,582 122,582'],['#333','130,582 135,582'],['#333','74,594 135,594 150,600'],['#ffb400','27,605 213,605 218,590'],['#000','139,623 148,623 157,608']
];
page.insertAdjacentHTML('beforeend', `<svg width="910" height="660">${leaders.map(([c, p]) => `<polyline points="${p}" fill="none" stroke="${c}" stroke-width="1"/>`).join('')}</svg>`);
</script>
</body>
</html>
